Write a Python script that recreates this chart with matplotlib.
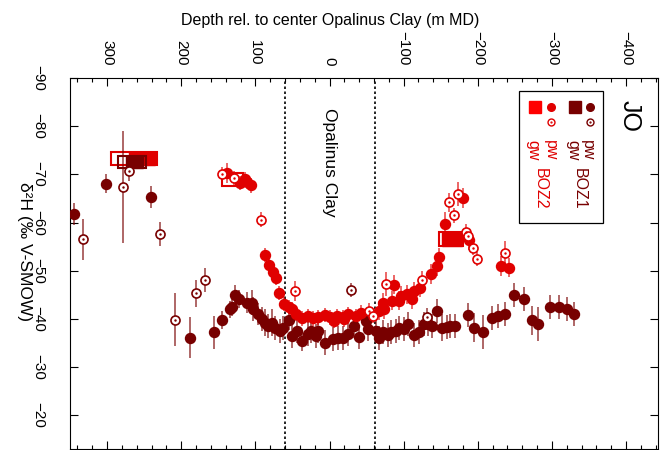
import numpy as np
import matplotlib.pyplot as plt
from matplotlib.patches import Rectangle

plt.rcParams['font.family'] = ['Liberation Sans', 'DejaVu Sans']

# BOZ1 porewater (filled dark circles)
boz1_pw_depth = [344.5, 301.6, 240.4, 187.7, 155.5, 145, 134, 131.8, 127.3, 122, 111.7, 105, 102.8,
                 96, 91.6, 87, 82.7, 78, 73.7, 67, 62.6, 54.6, 50, 43.8, 36.6, 29, 24.5, 17.8, 15.6,
                 6.7, -4.5, -11, -17.8, -24.5, -33.5, -40.2, -49, -51.4, -62.6, -67, -71.5, -78.2,
                 -82.7, -89.4, -93.8, -100.5, -106.3, -113.9, -120.6, -127.3, -133.1, -138.5, -145.2,
                 -151.9, -158.6, -163.1, -168.9, -186.7, -194.4, -206.4, -218.9, -227, -236.9,
                 -249.3, -262.3, -273.5, -281.5, -297.2, -309.2, -320.8, -329.8]
boz1_pw_d2h = [-61.7, -68.1, -65.3, -36.1, -37.2, -39.8, -42, -42.5, -44.9, -44.1, -43.4, -43.4, -42,
               -41, -39.9, -39.2, -38.5, -39.2, -38.2, -37.5, -38.2, -39.7, -36.5, -37.4, -35.4, -36.8,
               -37.5, -36.5, -37.5, -35.1, -35.8, -36, -36.1, -36.8, -38.5, -36.3, -39.6, -37.9, -37.5,
               -36, -37.2, -36.7, -37.3, -37.5, -38.2, -37.9, -38.9, -36.7, -37.2, -38.9, -39.0, -38.5,
               -41.7, -38.2, -38.4, -38.5, -38.5, -40.8, -38.2, -37.3, -40.1, -40.6, -41, -44.9, -44.1,
               -39.7, -38.9, -42.5, -42.4, -42, -41.1]
boz1_pw_err = [2.3, 2.0, 2.3, 4.2, 3.4, 1.8, 1.8, 1.8, 2.2, 1.8, 2.2, 2.5, 2.5, 2.2, 2.5, 2.8, 2.5,
               2.8, 2.5, 2.5, 2.5, 2.0, 2.5, 2.5, 2.0, 2.5, 2.5, 2.5, 2.5, 2.5, 2.5, 2.5, 2.5, 2.5,
               2.5, 2.5, 2.5, 2.5, 2.5, 2.5, 2.5, 2.5, 2.5, 2.5, 2.5, 2.5, 2.5, 2.5, 2.5, 2.5, 2.5,
               2.5, 2.5, 2.8, 2.5, 2.5, 2.5, 2.5, 3.0, 3.5, 2.5, 2.5, 2.5, 2.5, 2.5, 3.0, 3.5, 2.5,
               2.5, 2.5, 2.5]

# BOZ1 (open dark circles)
boz1_gw_depth = [332.4, 278.4, 270.4, 229.2, 209, 179.6, 167.6, -29, -131.8]
boz1_gw_d2h = [-56.5, -67.4, -70.7, -57.6, -39.8, -45.3, -48, -46, -40.3]
boz1_gw_err = [4.2, 11.7, 2.0, 2.5, 5.5, 2.8, 2.5, 1.5, 2.0]

# BOZ2 porewater (filled red circles)
boz2_pw_depth = [137.7, 120.6, 114, 111.7, 106.3, 87.1, 81.8, 76, 72.4, 68, 61.2, 54.6, 50, 44.7,
                 36.6, 29, 22.4, 15.6, 6.7, 0, -5.4, -9.8, -17.8, -20.1, -24.5, -35.7, -42.5, -67,
                 -71.5, -73.7, -84.9, -87.1, -93.8, -96.1, -105, -110.8, -113.9, -121.5, -136.3,
                 -145.2, -148.3, -155.5, -179.6, -188.6, -231, -242.2]
boz2_pw_d2h = [-70.3, -68.2, -69, -68.4, -67.7, -53.3, -51.2, -49.8, -48.5, -45.4, -43.1, -42.5, -42,
               -41, -40.1, -40.6, -40.1, -40.3, -40.8, -40.3, -39.6, -40.6, -40.3, -39.9, -41, -40.6,
               -41.3, -41.7, -43.4, -42, -43.8, -47.1, -43.8, -44.8, -45.1, -44.1, -45.7, -46.5,
               -49.3, -51, -52.8, -59.6, -65.1, -56.3, -51, -50.6]
boz2_pw_err = [2.0, 1.5, 1.5, 1.5, 1.5, 1.5, 1.5, 1.5, 1.5, 1.5, 1.5, 1.5, 1.5, 1.5, 1.5, 1.5, 1.5,
               1.5, 1.5, 1.5, 1.5, 1.5, 1.5, 1.5, 1.5, 1.5, 1.5, 2.0, 2.0, 2.0, 2.0, 2.0, 2.0, 2.0,
               2.0, 2.0, 2.0, 2.0, 2.0, 2.0, 2.0, 2.5, 2.0, 2.0, 2.0, 2.0]

# BOZ2 (open red circles)
boz2_gw_depth = [145.2, 128.7, 92.5, 47, -53.6, -58, -76.8, -125.1, -160.9, -167.6, -172.9,
                 -184.1, -186.7, -193, -198.8, -236]
boz2_gw_d2h = [-70, -69.3, -60.6, -45.8, -41.7, -40.6, -47.2, -48, -64.2, -61.5, -66, -58.1,
               -57.3, -54.7, -52.4, -53.6]
boz2_gw_err = [1.5, 1.5, 1.5, 2.0, 1.5, 1.5, 2.5, 2.0, 2.0, 1.5, 2.5, 1.5, 1.5, 1.5, 1.5, 2.5]

# groundwater intervals: depth from, depth to, d2H low, d2H high
gw_boz2_open = [(295, 232, -74.6, -71.9), (144.8, 116.6, -70.2, -67.5), (-148, -180.5, -58.1, -55.1)]
gw_boz2_fill = [(271, 235, -74.6, -71.9), (-152, -178, -58.1, -55.1)]
gw_boz1_open = [(285.5, 248, -73.75, -71.25)]
gw_boz1_fill = [(275, 251, -73.75, -71.25)]

opa_top, opa_bot = 60, -62

c1 = '#780000'
c2 = '#e00000'
c2_leg = '#ff0000'

fig = plt.figure(figsize=(6.62, 4.5), dpi=100)
ax = fig.add_axes([70 / 662, 1 - 449 / 450, 588 / 662, 371 / 450])

def rects(lst, col, filled):
    for d0, d1, lo, hi in lst:
        if filled:
            ax.add_patch(Rectangle((d1, lo), d0 - d1, hi - lo, facecolor=col, edgecolor=col,
                                   lw=1.0, zorder=3))
        else:
            ax.add_patch(Rectangle((d1, lo), d0 - d1, hi - lo, facecolor='none', edgecolor=col,
                                   lw=1.5, zorder=3))

rects(gw_boz2_open, c2, False)
rects(gw_boz2_fill, c2, True)
rects(gw_boz1_open, c1, False)
rects(gw_boz1_fill, c1, True)

def pts(d, v, e, col, filled):
    ax.errorbar(d, v, yerr=e, fmt='none', ecolor=col, elinewidth=1.4, alpha=0.6, zorder=4)
    if filled:
        ax.plot(d, v, 'o', color=col, ms=7.2, mec=col, zorder=5)
    else:
        ax.plot(d, v, 'o', mfc='white', mec=col, ms=6.5, mew=1.2, zorder=5)
        ax.plot(d, v, '.', color=col, ms=1.5, zorder=6)

pts(boz1_pw_depth, boz1_pw_d2h, boz1_pw_err, c1, True)
pts(boz2_pw_depth, boz2_pw_d2h, boz2_pw_err, c2, True)
pts(boz1_gw_depth, boz1_gw_d2h, boz1_gw_err, c1, False)
pts(boz2_gw_depth, boz2_gw_d2h, boz2_gw_err, c2, False)

ax.axvline(opa_top, color='black', ls=(0, (1.5, 1.5)), lw=1.2, zorder=2)
ax.axvline(opa_bot, color='black', ls=(0, (1.5, 1.5)), lw=1.2, zorder=2)
ax.text(0, -72.4, 'Opalinus Clay', rotation=-90, ha='center', va='center', fontsize=12.5)
ax.text(-404, -82.2, 'JO', rotation=-90, ha='center', va='center', fontsize=18)

ax.set_xlim(350, -443)
ax.set_ylim(-13, -90)
ax.set_xticks(np.arange(300, -401, -100))
ax.set_xticks(np.arange(340, -441, -20), minor=True)
ax.set_yticks(np.arange(-90, -19, 10))
ax.tick_params(axis='both', which='both', direction='in', top=True, right=True,
               labeltop=True, labelbottom=False, labelsize=11, width=0.8)
ax.tick_params(axis='x', which='major', length=6, pad=9)
ax.tick_params(axis='x', which='minor', length=3)
ax.tick_params(axis='y', which='major', length=6, pad=18)
for lab in ax.get_xticklabels():
    lab.set_rotation(-90)
for lab in ax.get_yticklabels():
    lab.set_rotation(-90)
    lab.set_va('center')
for sp in ax.spines.values():
    sp.set_linewidth(0.8)

fig.text(330 / 662, 1 - 20 / 450, 'Depth rel. to center Opalinus Clay (m MD)',
         ha='center', va='center', fontsize=11.5)
fig.text(24 / 662, 1 - 252 / 450, 'δ²H (‰ V-SMOW)', rotation=-90,
         ha='center', va='center', fontsize=12.5)

# legend, drawn by hand in axes fraction
def fx(px):
    return (px - 70) / 588

def fy(py):
    return (449 - py) / 371

T = ax.transAxes
ax.add_patch(Rectangle((fx(519.3), fy(223.3)), fx(603.3) - fx(519.3), fy(90.7) - fy(223.3),
                       transform=T, facecolor='white', edgecolor='black', lw=0.9, zorder=7))
ax.plot([fx(535)], [fy(106.7)], 's', color=c2_leg, ms=9, transform=T, zorder=8)
ax.plot([fx(550.7)], [fy(106.7)], 'o', color=c2, ms=5.5, transform=T, zorder=8)
ax.plot([fx(550.7)], [fy(121.7)], 'o', mfc='white', mec=c2, ms=5, mew=1, transform=T, zorder=8)
ax.plot([fx(550.7)], [fy(121.7)], '.', color=c2, ms=1.2, transform=T, zorder=9)
ax.plot([fx(575)], [fy(106.7)], 's', color=c1, ms=9, transform=T, zorder=8)
ax.plot([fx(590)], [fy(106.7)], 'o', color=c1, ms=5.5, transform=T, zorder=8)
ax.plot([fx(590)], [fy(121.7)], 'o', mfc='white', mec=c1, ms=5, mew=1, transform=T, zorder=8)
ax.plot([fx(590)], [fy(121.7)], '.', color=c1, ms=1.2, transform=T, zorder=9)
for px, txt, col in [(550.7, 'pw', c2), (533.3, 'gw', c2), (587, 'pw', c1), (572.7, 'gw', c1)]:
    ax.text(fx(px), fy(149.7), txt, rotation=-90, ha='center', va='center', color=col,
            fontsize=11.5, transform=T, zorder=9)
ax.text(fx(540), fy(189), 'BOZ2', rotation=-90, ha='center', va='center', color=c2,
        fontsize=11.5, transform=T, zorder=9)
ax.text(fx(579.3), fy(189), 'BOZ1', rotation=-90, ha='center', va='center', color=c1,
        fontsize=11.5, transform=T, zorder=9)

fig.savefig('out.png', dpi=100)
